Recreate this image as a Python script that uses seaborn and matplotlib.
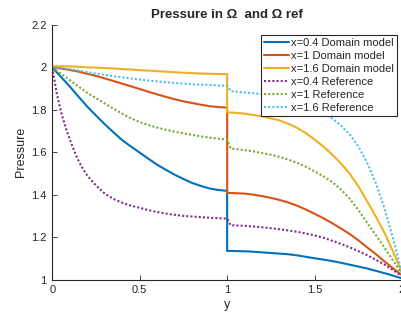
import pandas as pd
import matplotlib.pyplot as plt
import seaborn as sb

# values
y_dom = [0, 0.05, 0.1, 0.15, 0.2, 0.25, 0.3, 0.35, 0.4, 0.45, 0.5,
         0.55, 0.6, 0.65, 0.7, 0.75, 0.8, 0.85, 0.9, 0.95, 1.0,
         1.0, 1.05, 1.1, 1.15, 1.2, 1.25, 1.3, 1.35, 1.4, 1.45, 1.5,
         1.55, 1.6, 1.65, 1.7, 1.75, 1.8, 1.85, 1.9, 1.95, 2.0]
y_ref = [0, 0.025, 0.05, 0.075, 0.1, 0.125, 0.15, 0.175, 0.2, 0.25, 0.3, 0.35, 0.4, 0.45, 0.5,
         0.55, 0.6, 0.65, 0.7, 0.75, 0.8, 0.85, 0.9, 0.95, 1.0,
         1.02, 1.05, 1.1, 1.15, 1.2, 1.25, 1.3, 1.35, 1.4, 1.45, 1.5,
         1.55, 1.6, 1.65, 1.7, 1.75, 1.8, 1.85, 1.9, 1.95, 2.0]

dom_04 = [2.0, 1.955, 1.91, 1.862, 1.815, 1.773, 1.732, 1.694, 1.657, 1.627, 1.598,
          1.569, 1.541, 1.517, 1.494, 1.474, 1.455, 1.441, 1.429, 1.422, 1.418,
          1.135, 1.134, 1.133, 1.131, 1.128, 1.125, 1.122, 1.119, 1.114, 1.107, 1.10,
          1.094, 1.087, 1.079, 1.07, 1.061, 1.052, 1.041, 1.03, 1.018, 1.005]
dom_1 = [2.0, 1.995, 1.988, 1.98, 1.97, 1.96, 1.948, 1.936, 1.923, 1.911, 1.898,
         1.885, 1.873, 1.861, 1.85, 1.84, 1.832, 1.824, 1.817, 1.813, 1.811,
         1.408, 1.407, 1.405, 1.40, 1.393, 1.385, 1.375, 1.363, 1.348, 1.33, 1.31,
         1.289, 1.266, 1.241, 1.215, 1.185, 1.152, 1.12, 1.085, 1.052, 1.02]
dom_16 = [2.005, 2.006, 2.005, 2.003, 2.0, 1.999, 1.997, 1.995, 1.992, 1.99, 1.987,
          1.985, 1.982, 1.98, 1.977, 1.975, 1.973, 1.971, 1.97, 1.969, 1.968,
          1.788, 1.786, 1.782, 1.776, 1.769, 1.76, 1.75, 1.734, 1.715, 1.69, 1.66,
          1.627, 1.59, 1.548, 1.50, 1.44, 1.37, 1.297, 1.22, 1.13, 1.03]
ref_04 = [2.0, 1.88, 1.79, 1.72, 1.66, 1.607, 1.56, 1.522, 1.49, 1.443, 1.405, 1.38, 1.362, 1.348, 1.338,
          1.327, 1.318, 1.311, 1.305, 1.30, 1.297, 1.294, 1.291, 1.289, 1.287,
          1.256, 1.255, 1.253, 1.25, 1.246, 1.242, 1.237, 1.231, 1.225, 1.217, 1.208,
          1.197, 1.183, 1.168, 1.152, 1.134, 1.115, 1.093, 1.07, 1.044, 1.015]
ref_1 = [2.0, 1.985, 1.97, 1.955, 1.94, 1.925, 1.91, 1.895, 1.88, 1.855, 1.83, 1.805, 1.782, 1.76, 1.742,
         1.728, 1.716, 1.706, 1.697, 1.689, 1.682, 1.675, 1.669, 1.664, 1.66,
         1.617, 1.615, 1.61, 1.604, 1.596, 1.588, 1.578, 1.565, 1.55, 1.532, 1.51,
         1.487, 1.46, 1.425, 1.382, 1.328, 1.268, 1.21, 1.15, 1.088, 1.025]
ref_16 = [2.0, 1.998, 1.996, 1.994, 1.992, 1.988, 1.985, 1.982, 1.978, 1.971, 1.965, 1.959, 1.953, 1.948, 1.943,
          1.938, 1.934, 1.93, 1.927, 1.924, 1.921, 1.919, 1.917, 1.915, 1.914,
          1.888, 1.886, 1.882, 1.878, 1.874, 1.869, 1.862, 1.852, 1.84, 1.824, 1.805,
          1.784, 1.76, 1.727, 1.685, 1.628, 1.552, 1.455, 1.335, 1.19, 1.03]

labels = ['x=0.4 Domain model', 'x=1 Domain model', 'x=1.6 Domain model',
          'x=0.4 Reference', 'x=1 Reference', 'x=1.6 Reference']
colors = ['#0072BD', '#D95319', '#EDB120', '#7E2F8E', '#77AC30', '#4DBEEE']

sb.set_style('ticks')
plt.rcParams['font.family'] = ['Liberation Sans', 'DejaVu Sans']

fig = plt.figure(figsize=(4.01, 3.21), dpi=100)
ax = fig.add_axes([52.3 / 401, 41.5 / 321, 349.7 / 401, 254.5 / 321])

series = [(y_dom, dom_04), (y_dom, dom_1), (y_dom, dom_16),
          (y_ref, ref_04), (y_ref, ref_1), (y_ref, ref_16)]

for i in range(6):
    df = pd.DataFrame({'y': series[i][0], 'Pressure': series[i][1]})
    ls = '-' if i < 3 else (0, (1, 1))
    sb.lineplot(data=df, x='y', y='Pressure', ax=ax, color=colors[i], linewidth=1.5,
                linestyle=ls, sort=False, estimator=None, label=labels[i])

ax.set_xlim(0, 2)
ax.set_ylim(1, 2.2)
ax.set_xticks([0, 0.5, 1, 1.5, 2])
ax.set_xticklabels(['0', '0.5', '1', '1.5', '2'])
ax.set_yticks([1, 1.2, 1.4, 1.6, 1.8, 2, 2.2])
ax.set_yticklabels(['1', '1.2', '1.4', '1.6', '1.8', '2', '2.2'])
ax.tick_params(direction='in', length=3.5, width=0.6, labelsize=8, colors='#262626', pad=4)
for s in ['top', 'right']:
    ax.spines[s].set_visible(False)
for s in ['left', 'bottom']:
    ax.spines[s].set_linewidth(0.8)
    ax.spines[s].set_color('#262626')

ax.set_xlabel('y', fontsize=9, labelpad=3)
ax.set_ylabel('Pressure', fontsize=9, labelpad=3)
ax.set_title('Pressure in Ω  and Ω ref', fontsize=9.5, fontweight='bold', pad=5)

leg = ax.legend(loc='upper right', bbox_to_anchor=(397 / 401, 1 - 35 / 321),
                bbox_transform=fig.transFigure, borderaxespad=0, fontsize=8,
                fancybox=False, framealpha=1, edgecolor='#262626', handlelength=2.3,
                handletextpad=0.2, labelspacing=0.28, borderpad=0.25)
leg.get_frame().set_linewidth(0.8)

plt.savefig('out.png', dpi=100)
